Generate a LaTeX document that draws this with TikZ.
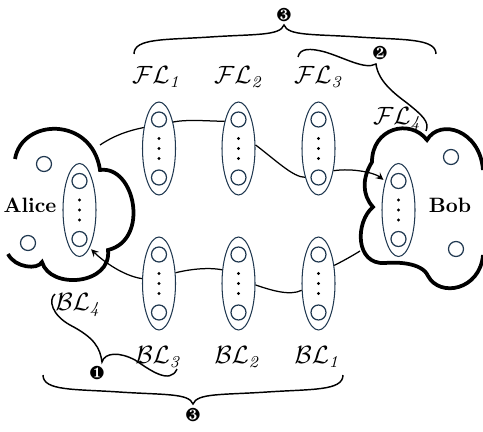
\documentclass[tikz,border=0pt]{standalone}
\usepackage{pifont}
\usetikzlibrary{shapes.geometric,arrows}

\definecolor{layercol}{RGB}{32,56,80}
\def\px{0.0169cm}

\begin{document}
\begin{tikzpicture}[x=\px,y=-\px,>=stealth]
    \tikzstyle{layer}=[ellipse,draw=layercol,line width=0.5pt,minimum width=33*\px,minimum height=93*\px,inner sep=0pt]
    \tikzstyle{unit}=[circle,draw=layercol,line width=0.6pt,minimum size=15*\px,inner sep=0pt]
    \tikzstyle{party}=[line width=1.8pt]
    \tikzstyle{link}=[line width=0.6pt]
    \tikzstyle{brace}=[line width=0.7pt]
    \tikzstyle{lbl}=[font=\large,inner sep=0pt]
    \tikzstyle{stepmark}=[font=\small,inner sep=0pt]

    \useasboundingbox (0,0) rectangle (483,431);

    % Draw the layers with their units.
    \foreach \name / \x / \y in {fl1/159/148.5, fl2/238.5/148.5, fl3/318.5/148.5,
                                 bl1/318.5/283.5, bl2/238.5/283.5, bl3/159/283.5,
                                 alice/79.5/210, bob/398.5/210} {
        \node[layer] (\name) at (\x,\y) {};
        \path (\x,\y) ++(0,-29) node[unit] (\name-1) {};
        \path (\x,\y) ++(0,29) node[unit] (\name-2) {};
        \foreach \d in {-10,0,10}
            \fill (\x,\y) ++(0,\d) circle (0.8pt);
    }

    % Draw the two parties.
    \draw[party] (15,159) .. controls (22,118) and (92,116) .. (100,170)
        .. controls (135,165) and (150,240) .. (108,250)
        .. controls (112,285) and (50,290) .. (42,262)
        .. controls (38,270) and (15,268) .. (8,254);
    \draw[party] (483,170) .. controls (480,130) and (440,118) .. (427,140)
        .. controls (410,118) and (372,128) .. (372,162)
        .. controls (362,178) and (362,195) .. (373,207)
        .. controls (355,222) and (355,265) .. (385,263)
        .. controls (395,262) and (422,262) .. (428,276)
        .. controls (440,298) and (480,290) .. (483,255);
    \node[unit] (alice-a) at (44,164) {};
    \node[unit] (alice-b) at (28,243) {};
    \node[unit] (bob-a) at (451,157) {};
    \node[unit] (bob-b) at (456,249) {};
    \node[font=\bfseries] (alice-name) at (30,205) {Alice};
    \node[font=\bfseries] (bob-name) at (450,205) {Bob};

    % Forward path.
    \coordinate (alice-out) at (100,145);
    \draw[link] (alice-out) .. controls +(15,-10) and +(-15,3) .. (fl1.126);
    \draw[link] (fl1.62) .. controls +(15,-3) and +(-15,0) .. (fl2.117);
    \draw[link] (fl2.12) .. controls +(20,15) and +(-12,0) .. (fl3.245);
    \draw[link,->,shorten >=1pt] (fl3.-56) .. controls +(20,-3) and +(-10,-8) .. (bob.115);

    % Backward path.
    \coordinate (bob-out) at (360,251);
    \draw[link] (bob-out) .. controls +(-8,5) and +(8,-4) .. (bl1.49);
    \draw[link] (bl1.202) .. controls +(-12,6) and +(15,5) .. (bl2.355);
    \draw[link] (bl2.140) .. controls +(-15,-3) and +(12,-3) .. (bl3.33);
    \draw[link,->,shorten >=1pt] (bl3.164) .. controls +(-20,-3) and +(12,12) .. (alice.-75);

    % Labels of the layers.
    \node[lbl] (fl1-lbl) at (157,77) {$\mathcal{FL}_{\mathit{1}}$};
    \node[lbl] (fl2-lbl) at (239,77) {$\mathcal{FL}_{\mathit{2}}$};
    \node[lbl] (fl3-lbl) at (319,77) {$\mathcal{FL}_{\mathit{3}}$};
    \node[lbl] (fl4-lbl) at (398,119) {$\mathcal{FL}_{\mathit{4}}$};
    \node[lbl] (bl4-lbl) at (79,305) {$\mathcal{BL}_{\mathit{4}}$};
    \node[lbl] (bl3-lbl) at (159,357) {$\mathcal{BL}_{\mathit{3}}$};
    \node[lbl] (bl2-lbl) at (238,357) {$\mathcal{BL}_{\mathit{2}}$};
    \node[lbl] (bl1-lbl) at (318,357) {$\mathcal{BL}_{\mathit{1}}$};

    % Braces.
    \draw[brace] (134,54) .. controls (134,38) and (165,40) .. (210,37)
        .. controls (255,34) and (280,36) .. (284,25)
        .. controls (288,36) and (313,34) .. (358,37)
        .. controls (403,40) and (436,38) .. (436,54);
    \draw[brace] (298,57) .. controls (300,48) and (310,48) .. (325,52)
        .. controls (345,58) and (365,70) .. (376,64)
        .. controls (378,80) and (392,92) .. (407,103)
        .. controls (422,115) and (430,122) .. (426,131);
    \draw[brace] (55,294) .. controls (48,300) and (52,315) .. (70,325)
        .. controls (95,338) and (100,348) .. (102,362)
        .. controls (105,352) and (120,352) .. (135,360)
        .. controls (150,370) and (170,385) .. (177,369);
    \draw[brace] (43,375) .. controls (43,391) and (74,389) .. (119,392)
        .. controls (164,395) and (189,393) .. (193,404)
        .. controls (197,393) and (222,395) .. (267,392)
        .. controls (312,389) and (343,391) .. (343,375);
    \node[stepmark] (m3-top) at (284,15) {\ding{184}};
    \node[stepmark] (m2) at (380,53) {\ding{183}};
    \node[stepmark] (m1) at (97,373) {\ding{182}};
    \node[stepmark] (m3-bot) at (193,415) {\ding{184}};
\end{tikzpicture}
\end{document}
